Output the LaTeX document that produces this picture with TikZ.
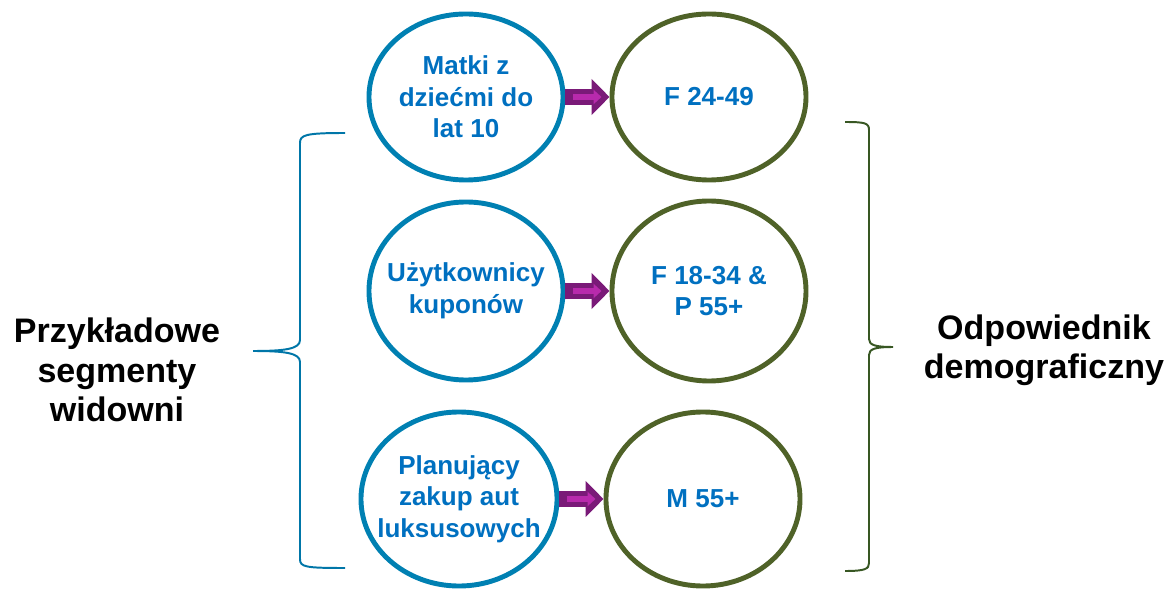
\documentclass[tikz,border=0pt]{standalone}
\usepackage{fontspec}
\setmainfont{Liberation Sans}
\usepackage{xcolor}
\usepackage{tikz}
\usetikzlibrary{shapes.geometric, arrows.meta, positioning}
\definecolor{segblue}{RGB}{0,128,178}
\definecolor{txtblue}{RGB}{0,112,192}
\definecolor{demogreen}{RGB}{79,98,40}
\definecolor{braceblue}{RGB}{0,118,168}
\definecolor{bracegreen}{RGB}{56,87,35}
\definecolor{arrowpurple}{RGB}{122,26,120}
\definecolor{arrowpink}{RGB}{184,42,172}

\begin{document}
\begin{tikzpicture}[
    x=0.025cm, y=-0.025cm,
    seg/.style={ellipse, draw=segblue, line width=3.5pt, minimum width=4.85cm, minimum height=4.15cm, inner xsep=-0.5cm, inner ysep=0pt, align=center, text=txtblue, font=\bfseries\fontsize{18.5}{22.4}\selectfont},
    demo/.style={seg, draw=demogreen},
    side/.style={align=center, font=\bfseries\fontsize{24.2}{28}\selectfont},
    blockarrow/.style={draw=arrowpurple, line width=0.4cm, -{Triangle[length=0.45cm, width=0.88cm]}, postaction={draw=arrowpink, line width=0.14cm, -{Triangle[length=0.2cm, width=0.35cm]}, shorten <=0.2cm, shorten >=0.2cm}},
    segbrace/.style={draw=braceblue, line width=1.4pt},
    demobrace/.style={draw=bracegreen, line width=1.4pt}
]
\useasboundingbox (0,0) rectangle (1169,589);
\node[seg] (m1) at (466,97) {Matki z\\dziećmi do\\lat 10};
\node[seg, minimum height=4.45cm] (m2) at (466,291) {Użytkownicy\\kuponów};
\node[seg, minimum width=4.9cm, minimum height=4.35cm] (m3) at (459,499) {Planujący\\zakup aut\\luksusowych};
\node[demo, right=1.1cm of m1] (d1) {F 24-49};
\node[demo, minimum height=4.5cm, right=1.1cm of m2] (d2) {F 18-34 \&\\P 55+};
\node[demo, minimum height=4.35cm, right=1.1cm of m3] (d3) {M 55+};
\node[side] (segm) at (117,370) {Przykładowe\\segmenty\\widowni};
\node[side] (demog) at (1044,350) {Odpowiednik\\demograficzny};
\draw[blockarrow] (m1) -- (d1);
\draw[blockarrow] (m2) -- (d2);
\draw[blockarrow] (m3) -- (d3);
\draw[segbrace] (345,133) .. controls (305,133) and (300,135) .. (300,143) -- (300,340) .. controls (300,349) and (285,351) .. (253,351) .. controls (285,351) and (300,353) .. (300,362) -- (300,559) .. controls (300,567) and (305,568) .. (345,568);
\draw[demobrace] (845,122) .. controls (865,122) and (869,123) .. (869,130) -- (869,339) .. controls (869,345) and (875,347) .. (893,347) .. controls (875,347) and (869,349) .. (869,355) -- (869,563) .. controls (869,569) and (865,571) .. (845,571);
\end{tikzpicture}
\end{document}
